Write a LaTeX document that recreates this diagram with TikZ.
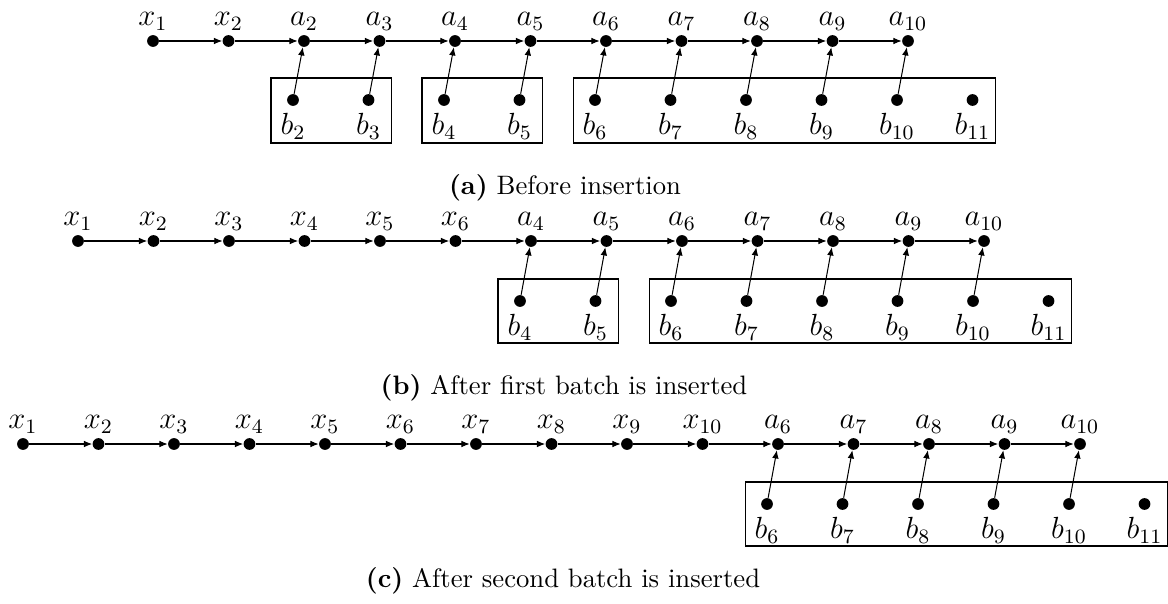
\documentclass[tikz,border=0pt]{standalone}
\usetikzlibrary{arrows.meta,calc}
\begin{document}
\begin{tikzpicture}[x=0.392pt,y=-0.392pt,
  dot/.style={circle,fill=black,inner sep=0pt,minimum size=4.6pt},
  conn/.style={-{Latex[length=3.2pt,width=2.6pt]},line width=0.4pt},
  grp/.style={draw,line width=0.4pt},
  toplab/.style={label={[inner sep=1.6pt,font=\large]above:$#1$}},
  botlab/.style={label={[inner sep=2.6pt,font=\large]below:$#1$}},
  captext/.style={anchor=base,font=\fontsize{10.45pt}{12.5pt}\selectfont}]
\useasboundingbox (0,0) rectangle (1168,604);
% ---------- (a) ----------
\foreach \lab [count=\k from 0] in {x_1,x_2,a_2,a_3,a_4,a_5,a_6,a_7,a_8,a_9,a_{10}}
  \node[dot,toplab=\lab] (ra\k) at (153+75.5*\k,41) {};
\foreach \k in {0,...,9}{\pgfmathtruncatemacro\j{\k+1}\draw[conn] (ra\k) -- (ra\j);}
\foreach \i in {2,...,11}
  \node[dot,botlab={b_{\i}}] (rab\i) at (153+75.5*\i-11,100) {};
\foreach \i in {2,...,10} \draw[conn] (rab\i) -- (ra\i);
\draw[grp] ($(rab2)+(-22,-22)$) rectangle ($(rab3)+(23,43)$);
\draw[grp] ($(rab4)+(-22,-22)$) rectangle ($(rab5)+(23,43)$);
\draw[grp] ($(rab6)+(-22,-22)$) rectangle ($(rab11)+(23,43)$);
\node[captext] (capa) at (565,195) {\textbf{(a)} Before insertion};
% ---------- (b) ----------
\foreach \lab [count=\k from 0] in {x_1,x_2,x_3,x_4,x_5,x_6,a_4,a_5,a_6,a_7,a_8,a_9,a_{10}}
  \node[dot,toplab=\lab] (rb\k) at (78+75.5*\k,241) {};
\foreach \k in {0,...,11}{\pgfmathtruncatemacro\j{\k+1}\draw[conn] (rb\k) -- (rb\j);}
\foreach \i in {4,...,11}
  \node[dot,botlab={b_{\i}}] (rbb\i) at (78+75.5*\i+151-11,301) {};
\foreach \i in {4,...,10}{\pgfmathtruncatemacro\k{\i+2}\draw[conn] (rbb\i) -- (rb\k);}
\draw[grp] ($(rbb4)+(-22,-22)$) rectangle ($(rbb5)+(23,42)$);
\draw[grp] ($(rbb6)+(-22,-22)$) rectangle ($(rbb11)+(23,42)$);
\node[captext] (capb) at (564,394) {\textbf{(b)} After first batch is inserted};
% ---------- (c) ----------
\foreach \lab [count=\k from 0] in {x_1,x_2,x_3,x_4,x_5,x_6,x_7,x_8,x_9,x_{10},a_6,a_7,a_8,a_9,a_{10}}
  \node[dot,toplab=\lab] (rc\k) at (23+75.5*\k,444) {};
\foreach \k in {0,...,13}{\pgfmathtruncatemacro\j{\k+1}\draw[conn] (rc\k) -- (rc\j);}
\foreach \i in {6,...,11}
  \node[dot,botlab={b_{\i}}] (rcb\i) at (23+75.5*\i+302-11,504) {};
\foreach \i in {6,...,10}{\pgfmathtruncatemacro\k{\i+4}\draw[conn] (rcb\i) -- (rc\k);}
\draw[grp] ($(rcb6)+(-22,-22)$) rectangle ($(rcb11)+(23,42)$);
\node[captext] (capc) at (563,587) {\textbf{(c)} After second batch is inserted};
\end{tikzpicture}
\end{document}
